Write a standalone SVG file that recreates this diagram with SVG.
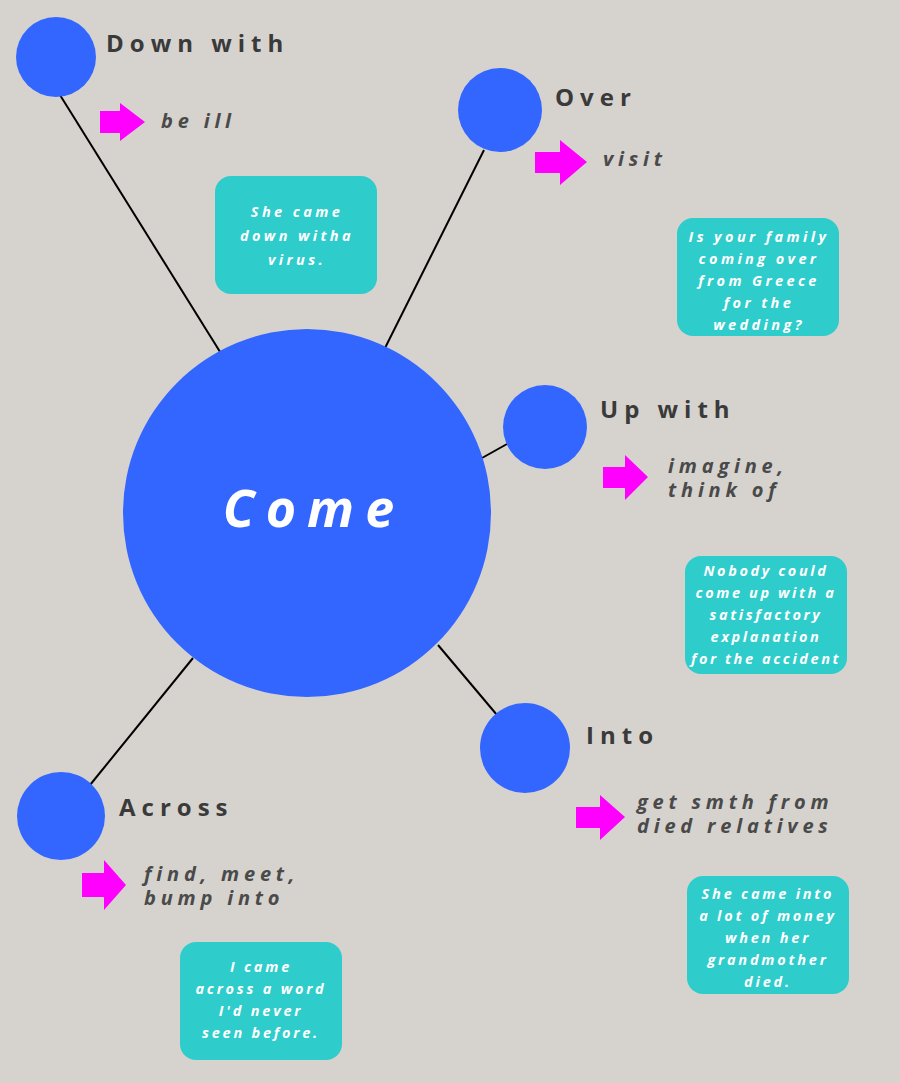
<svg xmlns="http://www.w3.org/2000/svg" width="900" height="1083" viewBox="0 0 900 1083">
<defs>
<style>
.c{fill:#3366FF}
.t{font-family:"Open Sans","Liberation Sans",sans-serif;font-weight:bold;fill:#3a3a3a;font-size:24px;letter-spacing:6px}
.m{font-family:"Open Sans","Liberation Sans",sans-serif;font-weight:bold;font-style:italic;fill:#4a4a4a;font-size:20px;letter-spacing:4.8px}
.b{fill:#2ECCCB}
.w{font-family:"Open Sans","Liberation Sans",sans-serif;font-weight:bold;font-style:italic;fill:#fff;font-size:14.5px;letter-spacing:3.4px;text-anchor:middle}
.a{fill:#FF00FF}
.l{stroke:#000;stroke-width:2;fill:none}
</style>
</defs>
<rect width="900" height="1083" fill="#D6D3CE"/>
<g id="connectors">
<line class="l" x1="60" y1="95" x2="222" y2="355"/>
<line class="l" x1="484" y1="150" x2="383" y2="352"/>
<line class="l" x1="507" y1="444" x2="482" y2="458"/>
<line class="l" x1="438" y1="645" x2="497" y2="715"/>
<line class="l" x1="90" y1="785" x2="193" y2="658"/>
</g>
<g id="come"><circle class="c" cx="307" cy="513" r="184"/>
<text x="314" y="527" font-family="Open Sans,Liberation Sans,sans-serif" font-weight="bold" font-style="italic" font-size="52" fill="#fff" letter-spacing="11" text-anchor="middle">Come</text></g>
<g id="downwith"><circle class="c" cx="56" cy="57" r="40"/><text class="t" x="106" y="52">Down with</text>
<path class="a" d="M100,111 H120 V103 L145,122 L120,141 V133 H100 Z"/><text class="m" x="161" y="128">be ill</text>
<rect class="b" x="215" y="176" width="162" height="118" rx="16"/>
<text class="w"><tspan x="297" y="217">She came</tspan><tspan x="297" y="241">down witha</tspan><tspan x="297" y="265">virus.</tspan></text></g>
<g id="over"><circle class="c" cx="500" cy="110" r="42"/><text class="t" x="555" y="106">Over</text>
<path class="a" d="M535,152 H560 V140 L587,162 L560,185 V173 H535 Z"/><text class="m" x="603" y="166">visit</text>
<rect class="b" x="677" y="218" width="162" height="118" rx="16"/>
<text class="w"><tspan x="759" y="242">Is your family</tspan><tspan x="759" y="264">coming over</tspan><tspan x="759" y="286">from Greece</tspan><tspan x="759" y="308">for the</tspan><tspan x="759" y="330">wedding?</tspan></text></g>
<g id="upwith"><circle class="c" cx="545" cy="427" r="42"/><text class="t" x="600" y="418">Up with</text>
<path class="a" d="M603,467 H625 V455 L648,477 L625,500 V488 H603 Z"/><text class="m"><tspan x="668" y="473">imagine,</tspan><tspan x="668" y="497">think of</tspan></text>
<rect class="b" x="685" y="556" width="162" height="118" rx="16"/>
<text class="w" style="letter-spacing:2.6px"><tspan x="766" y="576">Nobody could</tspan><tspan x="766" y="598">come up with a</tspan><tspan x="766" y="620">satisfactory</tspan><tspan x="766" y="642">explanation</tspan><tspan x="766" y="664">for the accident</tspan></text></g>
<g id="into"><circle class="c" cx="525" cy="748" r="45"/><text class="t" x="586" y="744">Into</text>
<path class="a" d="M576,807 H600 V795 L625,817 L600,840 V828 H576 Z"/><text class="m"><tspan x="637" y="809">get smth from</tspan><tspan x="637" y="833">died relatives</tspan></text>
<rect class="b" x="687" y="876" width="162" height="118" rx="16"/>
<text class="w" style="letter-spacing:2.8px"><tspan x="768" y="899">She came into</tspan><tspan x="768" y="921">a lot of money</tspan><tspan x="768" y="943">when her</tspan><tspan x="768" y="965">grandmother</tspan><tspan x="768" y="987">died.</tspan></text></g>
<g id="across"><circle class="c" cx="61" cy="816" r="44"/><text class="t" x="119" y="816">Across</text>
<path class="a" d="M82,873 H104 V860 L126,885 L104,910 V897 H82 Z"/><text class="m"><tspan x="144" y="881">find, meet,</tspan><tspan x="144" y="905">bump into</tspan></text>
<rect class="b" x="180" y="942" width="162" height="118" rx="16"/>
<text class="w" style="letter-spacing:2.8px"><tspan x="261" y="972">I came</tspan><tspan x="261" y="994">across a word</tspan><tspan x="261" y="1016">I'd never</tspan><tspan x="261" y="1038">seen before.</tspan></text></g>
</svg>
